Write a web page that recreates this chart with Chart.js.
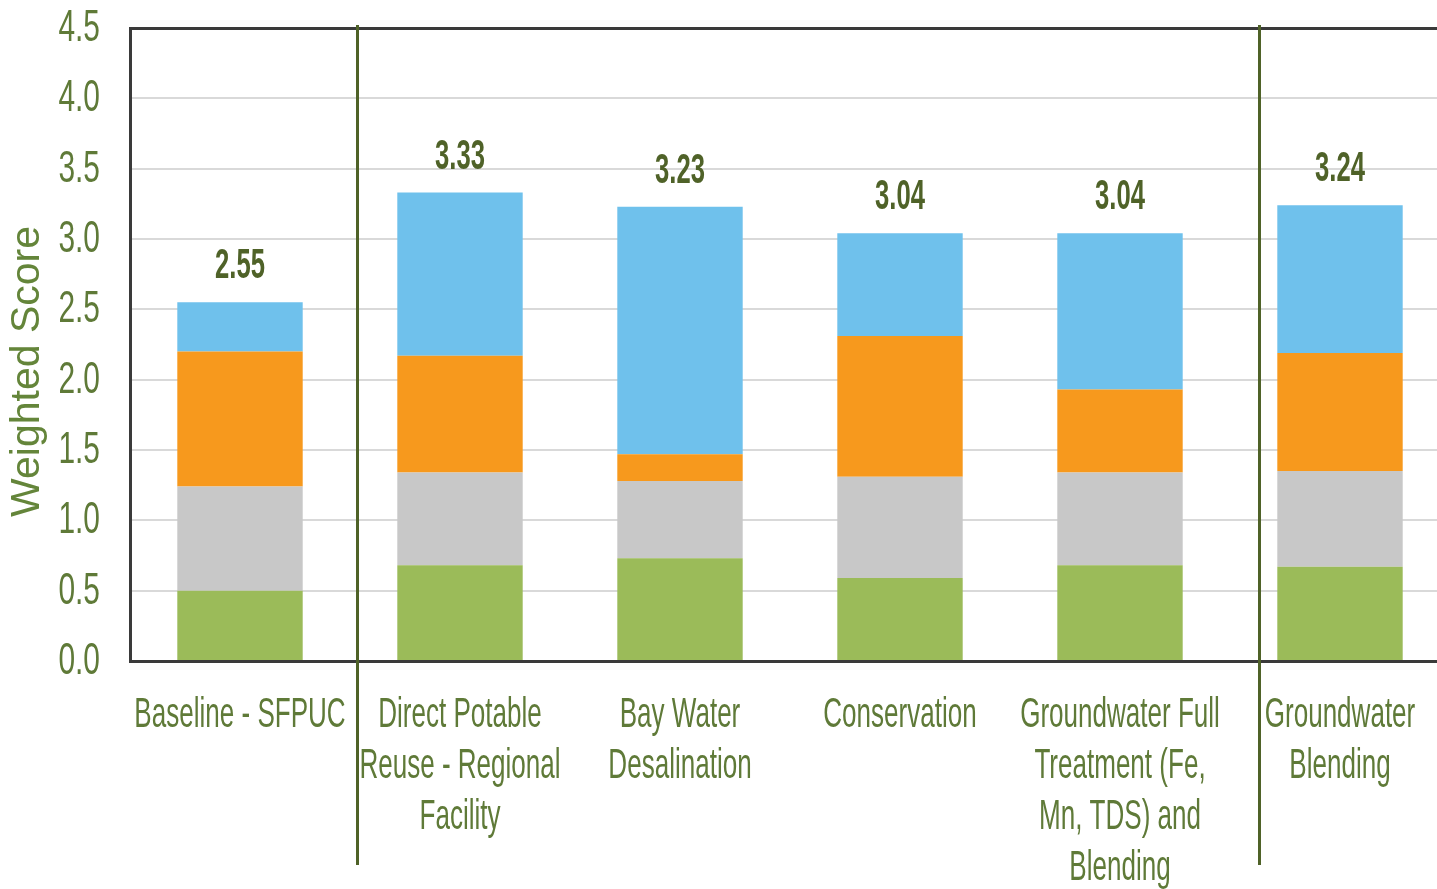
<!DOCTYPE html>
<html>
<head>
<meta charset="utf-8">
<title>Weighted Score by Alternative</title>
<script src="https://cdn.jsdelivr.net/npm/chart.js@4.4.1/dist/chart.umd.min.js"></script>
<style>
  html, body { margin: 0; padding: 0; background: #ffffff; overflow: hidden; }
  #wrap { width: 1437px; height: 889px; overflow: hidden; position: relative; }
  #chart { position: absolute; left: 0; top: 0; }
</style>
</head>
<body>
<div id="wrap"><canvas id="chart" width="1450" height="889"></canvas></div>
<script>
// Alternatives (one stacked bar each); each entry is the list of label lines
const categories = [
  ['Baseline - SFPUC'],
  ['Direct Potable', 'Reuse - Regional', 'Facility'],
  ['Bay Water', 'Desalination'],
  ['Conservation'],
  ['Groundwater Full', 'Treatment (Fe,', 'Mn, TDS) and', 'Blending'],
  ['Groundwater', 'Blending']
];

// Score components, stacked bottom to top
const scoreGreen  = [0.50, 0.68, 0.73, 0.59, 0.68, 0.67];
const scoreGray   = [0.74, 0.66, 0.55, 0.72, 0.66, 0.68];
const scoreOrange = [0.96, 0.83, 0.19, 1.00, 0.59, 0.84];
const scoreBlue   = [0.35, 1.16, 1.76, 0.73, 1.11, 1.05];

// Total weighted score printed above each bar
const totals = [2.55, 3.33, 3.23, 3.04, 3.04, 3.24];

// Value axis ticks
const yTicks = [0.0, 0.5, 1.0, 1.5, 2.0, 2.5, 3.0, 3.5, 4.0, 4.5];

// Group dividers, in category units along the x axis
const dividers = [0.53, 4.63];

const OLIVE_TEXT = '#5f7a38';
const OLIVE_DARK = '#4f6228';
const FRAME = '#3a3a3a';
const FACE = '"Liberation Sans", Arial, sans-serif';

// Draw a line of text squeezed horizontally (condensed face)
function condensedText(ctx, text, x, y, sx) {
  ctx.save();
  ctx.translate(x, y);
  ctx.scale(sx, 1);
  ctx.fillText(text, 0, 0);
  ctx.restore();
}

const annotations = {
  id: 'annotations',
  afterDatasetsDraw(chart) {
    const ctx = chart.ctx;
    const xs = chart.scales.x;
    const ys = chart.scales.y;
    const area = chart.chartArea;

    // group dividers
    ctx.save();
    ctx.strokeStyle = OLIVE_DARK;
    ctx.lineWidth = 3;
    dividers.forEach(v => {
      const px = Math.round(xs.getPixelForValue(v)) + 0.5;
      ctx.beginPath();
      ctx.moveTo(px, area.top - 3);
      ctx.lineTo(px, area.bottom + 204);
      ctx.stroke();
    });
    ctx.restore();

    // value axis tick labels
    ctx.save();
    ctx.fillStyle = OLIVE_TEXT;
    ctx.font = '44px ' + FACE;
    ctx.textAlign = 'right';
    ctx.textBaseline = 'middle';
    yTicks.forEach(v => {
      condensedText(ctx, v.toFixed(1), area.left - 30, ys.getPixelForValue(v) + 1, 0.68);
    });
    ctx.restore();

    // totals above the bars
    const topMeta = chart.getDatasetMeta(chart.data.datasets.length - 1);
    ctx.save();
    ctx.fillStyle = OLIVE_DARK;
    ctx.font = 'bold 42px ' + FACE;
    ctx.textAlign = 'center';
    ctx.textBaseline = 'alphabetic';
    totals.forEach((t, i) => {
      const el = topMeta.data[i];
      condensedText(ctx, t.toFixed(2), el.x, ys.getPixelForValue(t) - 24, 0.61);
    });
    ctx.restore();

    // category labels
    ctx.save();
    ctx.fillStyle = OLIVE_TEXT;
    ctx.font = '42px ' + FACE;
    ctx.textAlign = 'center';
    ctx.textBaseline = 'alphabetic';
    categories.forEach((lines, i) => {
      const cx = xs.getPixelForValue(i);
      lines.forEach((line, j) => {
        condensedText(ctx, line, cx, area.bottom + 66 + j * 51, 0.62);
      });
    });
    ctx.restore();

    // value axis title
    ctx.save();
    ctx.fillStyle = '#64853a';
    ctx.font = '41px ' + FACE;
    ctx.textAlign = 'center';
    ctx.textBaseline = 'middle';
    ctx.translate(28, (area.top + area.bottom) / 2 + 27);
    ctx.rotate(-Math.PI / 2);
    ctx.fillText('Weighted Score', 0, 0);
    ctx.restore();
  }
};

const makeSet = (label, data, color) => ({
  label, data,
  backgroundColor: color,
  borderWidth: 0,
  barPercentage: 0.57,
  categoryPercentage: 1.0
});

new Chart(document.getElementById('chart'), {
  type: 'bar',
  data: {
    labels: categories,
    datasets: [
      makeSet('Component 1', scoreGreen, '#9bbb59'),
      makeSet('Component 2', scoreGray, '#c8c8c8'),
      makeSet('Component 3', scoreOrange, '#f7991d'),
      makeSet('Component 4', scoreBlue, '#6fc1ec')
    ]
  },
  options: {
    responsive: false,
    animation: false,
    devicePixelRatio: 1,
    layout: { padding: { top: 28, right: 0, bottom: 0, left: 0 } },
    plugins: {
      legend: { display: false },
      tooltip: { enabled: false }
    },
    scales: {
      x: {
        stacked: true,
        grid: { display: false, drawTicks: false },
        border: { display: true, color: FRAME, width: 3 },
        ticks: { display: false },
        afterFit(scale) { scale.height = 228; }
      },
      y: {
        stacked: true,
        min: 0,
        max: 4.5,
        afterBuildTicks(scale) {
          scale.ticks = yTicks.map(v => ({ value: v }));
        },
        grid: {
          drawTicks: false,
          color: ctx => (ctx.tick && ctx.tick.value === 4.5) ? FRAME : '#d9d9d9',
          lineWidth: ctx => (ctx.tick && ctx.tick.value === 4.5) ? 3 : 2
        },
        border: { display: true, color: FRAME, width: 3 },
        ticks: { display: false },
        afterFit(scale) { scale.width = 130; }
      }
    }
  },
  plugins: [annotations]
});
</script>
</body>
</html>
